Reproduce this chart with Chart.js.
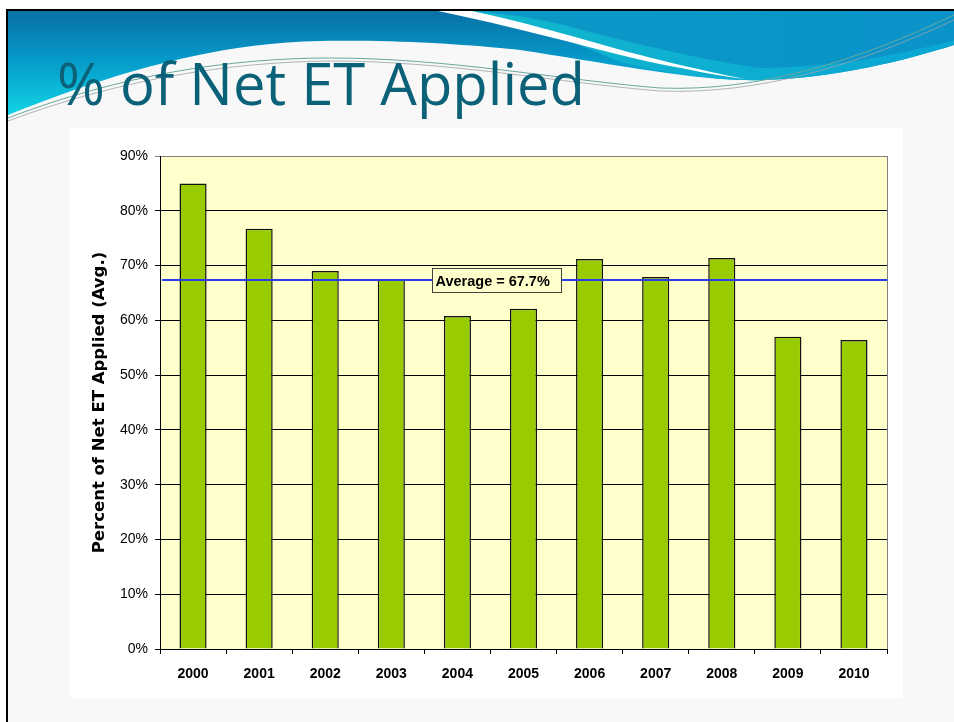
<!DOCTYPE html>
<html><head><meta charset="utf-8">
<script src="https://cdn.jsdelivr.net/npm/chart.js@4.4.0/dist/chart.umd.min.js"></script>
<style>
html,body{margin:0;padding:0;background:#fff;width:954px;height:722px;overflow:hidden;}
#slide{position:absolute;left:6px;top:9px;width:960px;height:720px;background:#f8f8f8;border-left:2px solid #000;border-top:2px solid #000;}
#hdr{position:absolute;left:0;top:0;}
#title{position:absolute;left:57px;top:53px;font-family:"Open Sans",sans-serif;font-size:59px;color:#0b6178;white-space:nowrap;transform-origin:0 0;line-height:1;}
#box{position:absolute;left:70px;top:128px;width:833px;height:570px;background:#fff;}
canvas{display:block;}
</style></head>
<body>
<div id="slide"></div>
<svg id="hdr" width="954" height="140" viewBox="0 0 954 140">
<defs>
<linearGradient id="gBlue" x1="0" y1="11" x2="0" y2="115" gradientUnits="userSpaceOnUse">
<stop offset="0" stop-color="#0a70a4"/><stop offset="0.45" stop-color="#0598c8"/><stop offset="1" stop-color="#12d4e4"/>
</linearGradient>
<linearGradient id="gCyan" x1="440" y1="0" x2="954" y2="0" gradientUnits="userSpaceOnUse">
<stop offset="0" stop-color="#12b8cc"/><stop offset="1" stop-color="#0aa6d4"/>
</linearGradient>
</defs>
<path d="M8,11 L954,11 L954,45 C900,62 820,82 740,80 C680,78 600,62 520,50 C460,44 400,40 320,41 C220,43 120,70 8,115 Z" fill="url(#gBlue)"/>
<path d="M470,11 L954,11 L954,45 C900,62 820,82 740,80 C700,78 660,72 620,62 C580,44 530,26 470,11 Z" fill="url(#gCyan)"/>
<path d="M470,11 L954,11 L954,40 C900,55 830,68 760,68 C700,60 620,40 560,24 C530,17 500,13 470,11 Z" fill="#0a8cc4" opacity="0.7"/>
<path d="M438,11 C520,28 590,48 650,62 C690,70 720,76 745,79 C700,70 640,56 600,44 C550,30 505,18 472,11 Z" fill="#ffffff"/>
<path d="M8,118 C120,75 230,58 330,58 C450,58 560,80 660,88 C760,92 860,60 954,15" fill="none" stroke="#6aa89c" stroke-width="1"/>
<path d="M8,121 C120,79 230,62 330,61 C450,61 560,83 660,91 C760,95 860,64 954,20" fill="none" stroke="#9aa4a8" stroke-width="1" opacity="0.8"/>
</svg>
<div id="title">% of Net ET Applied</div>
<div id="box"><canvas id="c" width="833" height="570"></canvas></div>
<script>
const categories = ["2000","2001","2002","2003","2004","2005","2006","2007","2008","2009","2010"];
const percentApplied = [85.0, 76.7, 69.0, 67.5, 60.8, 62.1, 71.2, 67.9, 71.4, 57.0, 56.4];
const yTicks = [0,10,20,30,40,50,60,70,80,90];
const avgLineValue = 67.4;
const avgLabel = "Average = 67.7%";
const yTitle = "Percent of Net ET Applied (Avg.)";

// fit title width
const t = document.getElementById('title');
const w = t.getBoundingClientRect().width;
t.style.transform = 'scaleX(' + (528 / w) + ')';

const bgPlugin = {
  id: 'bg',
  beforeDraw(chart) {
    const {ctx, chartArea: a} = chart;
    ctx.save();
    ctx.fillStyle = '#ffffcc';
    ctx.fillRect(a.left, a.top, a.right - a.left, a.bottom - a.top);
    ctx.restore();
  },
  beforeDatasetsDraw(chart) {
    const {ctx, chartArea: a} = chart;
    ctx.save();
    ctx.strokeStyle = '#808080';
    ctx.lineWidth = 1;
    ctx.beginPath();
    ctx.moveTo(a.right + 0.5, a.top);
    ctx.lineTo(a.right + 0.5, a.bottom);
    ctx.stroke();
    ctx.restore();
  }
};

const avgPlugin = {
  id: 'avg',
  afterDatasetsDraw(chart) {
    const {ctx, chartArea: a} = chart;
    const y = Math.round(chart.scales.y.getPixelForValue(avgLineValue));
    ctx.save();
    ctx.strokeStyle = '#2b3de8';
    ctx.lineWidth = 2;
    ctx.beginPath();
    ctx.moveTo(a.left + 2, y);
    ctx.lineTo(a.right, y);
    ctx.stroke();
    ctx.font = 'bold 14.5px "Liberation Sans", Arial, sans-serif';
    const bx = Math.round(a.left + 0.374 * (a.right - a.left)) + 0.5;
    const bw = 129, bh = 24;
    const by = y - 11.5;
    ctx.fillStyle = '#ffffcc';
    ctx.fillRect(bx, by, bw, bh);
    ctx.strokeStyle = '#404040';
    ctx.lineWidth = 1;
    ctx.strokeRect(bx, by, bw, bh);
    ctx.fillStyle = '#000';
    ctx.textBaseline = 'middle';
    ctx.textAlign = 'left';
    ctx.fillText(avgLabel, bx + 3, by + bh / 2 + 1);
    ctx.restore();
  }
};

new Chart(document.getElementById('c'), {
  type: 'bar',
  data: {
    labels: categories,
    datasets: [{
      data: percentApplied,
      backgroundColor: '#99cc00',
      borderColor: '#111111',
      borderWidth: 1.5,
      barPercentage: 0.41,
      categoryPercentage: 1.0
    }]
  },
  options: {
    responsive: false,
    animation: false,
    devicePixelRatio: 1,
    layout: {padding: {top: 28, right: 16, left: 0, bottom: 0}},
    plugins: {legend: {display: false}, tooltip: {enabled: false}},
    scales: {
      x: {
        grid: {offset: true, drawOnChartArea: false, tickLength: 5, color: '#000'},
        border: {color: '#000', width: 1},
        ticks: {color: '#000', padding: 12, font: {family: '"Liberation Sans", Arial, sans-serif', size: 14, weight: 'bold'}},
        afterFit(s) { s.height = 49; }
      },
      y: {
        min: 0, max: 90,
        afterBuildTicks(s) { s.ticks = yTicks.map(v => ({value: v})); },
        grid: {
          tickLength: 5,
          color: ctx => (ctx.tick && ctx.tick.value === 90) ? '#808080' : '#000'
        },
        border: {color: '#000', width: 1},
        ticks: {color: '#000', padding: 7, font: {family: '"Liberation Sans", Arial, sans-serif', size: 14}, callback: v => v + '%'},
        title: {display: true, text: yTitle, color: '#000', padding: {top: 20, bottom: 0},
          font: {family: '"DejaVu Sans", sans-serif', size: 16.5, weight: 'bold'}},
        afterFit(s) { s.width = 90; }
      }
    }
  },
  plugins: [bgPlugin, avgPlugin]
});
</script>
</body></html>
